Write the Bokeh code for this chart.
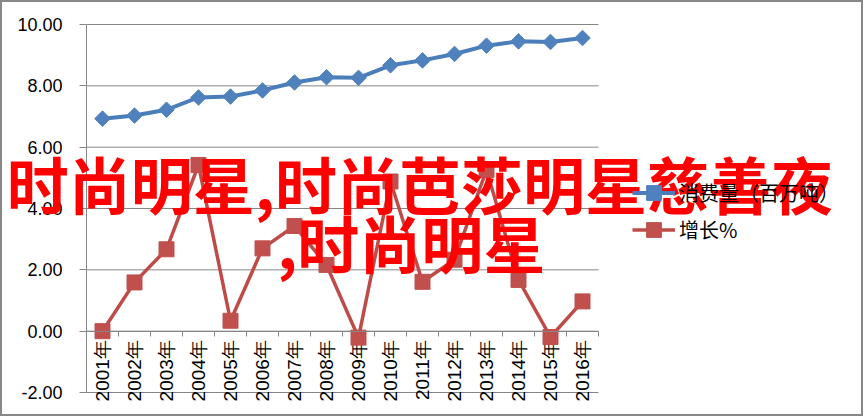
import math

from bokeh.core.properties import value
from bokeh.embed import file_html
from bokeh.models import (ColumnDataSource, FixedTicker, Label, Legend,
                          LegendItem, LinearAxis, Range1d)
from bokeh.plotting import figure
from bokeh.resources import INLINE

# Yearly series
years = ["2001", "2002", "2003", "2004", "2005", "2006", "2007", "2008",
         "2009", "2010", "2011", "2012", "2013", "2014", "2015", "2016"]
consumption = [6.93, 7.03, 7.22, 7.62, 7.65, 7.85, 8.11, 8.28,
               8.26, 8.67, 8.83, 9.04, 9.31, 9.45, 9.43, 9.56]
growth = [0.00, 1.59, 2.67, 5.42, 0.34, 2.70, 3.43, 2.16,
          -0.21, 4.88, 1.61, 2.33, 5.26, 1.67, -0.19, 0.97]
y_ticks = [-2, 0, 2, 4, 6, 8, 10]
series_names = ["消费量（百万吨）", "增长%"]
headline = ["时尚明星,时尚芭莎明星慈善夜", ",时尚明星"]

GRID = "#868686"
BLUE_LINE, BLUE_FILL = "#4A7EBB", "#4F81BD"
RED_LINE, RED_FILL = "#BE4B48", "#C0504D"

# one unit per year; plotting area spans the year bands only
xs = list(range(1, len(years) + 1))
bounds_x = [x - 0.5 for x in xs] + [xs[-1] + 0.5]
X_PX = 32.0          # pixels per year band
Y_PX = 368.0 / 12    # pixels per value unit
TOP = 10             # canvas pixels above the frame

# the canvas frame covers the whole chart so the headline can run across it
x_start = bounds_x[0] - 84 / X_PX
x_end = bounds_x[-1] + 267 / X_PX
y_end = y_ticks[-1] + (22 - TOP) / Y_PX
y_start = y_end - (416 - TOP) / Y_PX

src = ColumnDataSource(dict(
    x=xs,
    consumption=consumption,
    growth=growth,
    zero=[0] * len(xs),
    label=[y + "年" for y in years],
))
tick_src = ColumnDataSource(dict(
    y=y_ticks,
    left=[bounds_x[0]] * len(y_ticks),
    right=[bounds_x[-1]] * len(y_ticks),
    label=["%.2f" % t for t in y_ticks],
))

p = figure(width=863, height=416,
           x_range=Range1d(x_start, x_end), y_range=Range1d(y_start, y_end),
           x_axis_location=None, y_axis_location=None,
           output_backend="svg", toolbar_location=None,
           min_border=0, min_border_top=TOP)
p.styles = {"border": "2px solid #878787"}
p.outline_line_color = None
p.grid.grid_line_color = None
p.background_fill_color = "white"
p.border_fill_color = "white"

# horizontal gridlines across the year bands
p.segment(x0="left", x1="right", y0="y", y1="y", source=tick_src,
          line_color=GRID, line_width=1)

# value axis line with outward ticks at the left edge of the bands
yaxis = LinearAxis(fixed_location=bounds_x[0], bounds=(y_ticks[0], y_ticks[-1]),
                   ticker=FixedTicker(ticks=y_ticks),
                   major_label_overrides={t: "" for t in y_ticks},
                   major_label_text_color=None, major_label_standoff=0,
                   major_label_text_font_size="1px",
                   axis_line_color=GRID, major_tick_line_color=GRID,
                   major_tick_in=7, major_tick_out=0,
                   minor_tick_line_color=None, minor_tick_in=0, minor_tick_out=0)
p.add_layout(yaxis, "right")

# category axis on the zero line with ticks between the years
xaxis = LinearAxis(fixed_location=0, bounds=(bounds_x[0], bounds_x[-1]),
                   ticker=FixedTicker(ticks=xs, minor_ticks=bounds_x),
                   major_label_overrides={x: "" for x in xs},
                   major_label_text_color=None, major_label_standoff=0,
                   major_label_text_font_size="1px",
                   axis_line_color=GRID, major_tick_line_color=None,
                   major_tick_in=0, major_tick_out=0,
                   minor_tick_line_color=GRID, minor_tick_in=5, minor_tick_out=0)
p.add_layout(xaxis, "above")

# tick labels
p.text(x="left", y="y", text="label", source=tick_src, x_offset=-24,
       text_align="right", text_baseline="middle",
       text_font=value("Liberation Sans"), text_font_size="18px",
       text_color="#000000")
p.text(x="x", y="zero", text="label", source=src, angle=math.pi / 2,
       text_align="right", text_baseline="middle", y_offset=9,
       text_font=value("Liberation Sans"), text_font_size="19px",
       text_color="#000000")

l1 = p.line("x", "consumption", source=src, line_color=BLUE_LINE, line_width=4)
s1 = p.scatter("x", "consumption", source=src, marker="square", angle=math.pi / 4,
               size=11, fill_color=BLUE_FILL, line_color=BLUE_FILL)
l2 = p.line("x", "growth", source=src, line_color=RED_LINE, line_width=3.5)
s2 = p.scatter("x", "growth", source=src, marker="square", size=15,
               fill_color=RED_FILL, line_color=RED_FILL)

legend = Legend(items=[
    LegendItem(label=series_names[0], renderers=[l1, s1]),
    LegendItem(label=series_names[1], renderers=[l2, s2]),
], location=(630, 170), border_line_color=None, background_fill_alpha=0,
    glyph_width=43, glyph_height=37, spacing=0, label_standoff=4,
    padding=0, margin=0, label_text_font="Noto Sans CJK SC",
    label_text_font_size="20px", label_text_color="#000000")
p.add_layout(legend)

# headline drawn over the chart
for text, cx, cy in [(headline[0], 10.92, 4.82), (headline[1], 10.65, 2.92)]:
    p.add_layout(Label(x=cx, y=cy, text=text, text_align="center",
                       text_baseline="middle", text_font="Noto Sans CJK SC",
                       text_font_size="62px", text_font_style="bold",
                       text_color="#FF0000", level="overlay"))

open("out.html", "w").write(file_html(p, INLINE))
